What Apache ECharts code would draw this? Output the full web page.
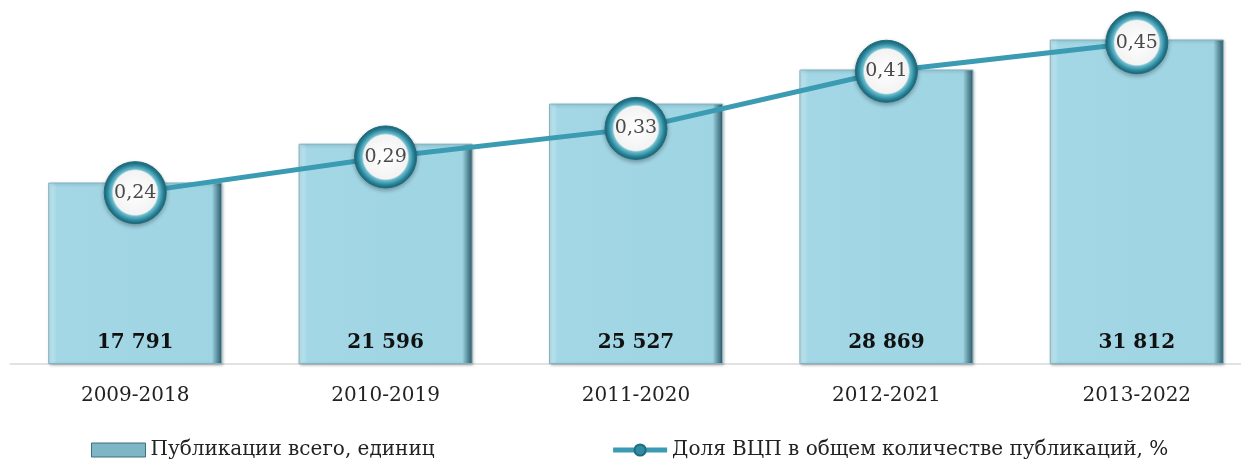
<!DOCTYPE html>
<html>
<head>
<meta charset="utf-8">
<script src="https://cdn.jsdelivr.net/npm/echarts@6/dist/echarts.min.js"></script>
<style>
  html, body { margin: 0; padding: 0; background: #fff; }
  #chart { width: 1241px; height: 460px; }
</style>
</head>
<body>
<div id="chart"></div>
<script>
var periods = ['2009-2018', '2010-2019', '2011-2020', '2012-2021', '2013-2022']
var publications = [17791, 21596, 25527, 28869, 31812]
var vcpShare = [0.24, 0.29, 0.33, 0.41, 0.45]
var barName = 'Публикации всего, единиц'
var lineName = 'Доля ВЦП в общем количестве публикаций, %'

var serif = '"DejaVu Serif", "Liberation Serif", serif'

// пробел как разделитель тысяч
var fmtThousands = function (v) {
  return String(v).replace(/\B(?=(\d{3})+(?!\d))/g, ' ')
}

var barFill = new echarts.graphic.LinearGradient(0, 0, 1, 0, [
  { offset: 0, color: '#c9ebf3' },
  { offset: 0.05, color: '#a3d7e5' },
  { offset: 0.94, color: '#9fd4e3' },
  { offset: 0.97, color: '#5f93a2' },
  { offset: 1, color: '#2f5561' }
])

var markerFill = new echarts.graphic.RadialGradient(0.5, 0.5, 0.5, [
  { offset: 0, color: '#ffffff' },
  { offset: 0.7, color: '#f3f3f3' },
  { offset: 0.75, color: '#6bbccd' },
  { offset: 0.88, color: '#2e8aa0' },
  { offset: 1, color: '#17606f' }
])

var chart = echarts.init(document.getElementById('chart'), null, { renderer: 'canvas' })

chart.setOption({
  animation: false,
  textStyle: { fontFamily: serif },
  legend: {
    top: 435,
    left: 86,
    itemGap: 176,
    itemWidth: 54,
    itemHeight: 14,
    textStyle: { fontFamily: serif, fontSize: 20, color: '#222' },
    data: [
      { name: barName, icon: 'rect', itemStyle: { color: '#7fb6c6', borderColor: '#3e6f7c', borderWidth: 1 } },
      { name: lineName, itemStyle: { color: '#2f8ca2', borderColor: '#1f6e80' }, lineStyle: { width: 5, color: '#3a9bb2' } }
    ]
  },
  grid: { left: 10, width: 1252, top: 7, bottom: 96, outerBoundsMode: 'none', containLabel: false },
  xAxis: {
    type: 'category',
    data: periods,
    axisLine: { lineStyle: { color: '#d9d9d9', width: 1.5 } },
    axisTick: { show: false },
    axisLabel: { fontFamily: serif, fontSize: 20, color: '#222', margin: 22 }
  },
  yAxis: [
    { type: 'value', min: 0, max: 35000, show: false, splitLine: { show: false } },
    { type: 'value', min: 0, max: 0.5, show: false, splitLine: { show: false } }
  ],
  series: [
    {
      name: barName,
      type: 'bar',
      data: publications,
      barWidth: 174,
      itemStyle: {
        color: barFill,
        borderColor: '#7db3c3',
        borderWidth: 1,
        shadowColor: 'rgba(0,0,0,0.25)',
        shadowBlur: 3,
        shadowOffsetX: 1,
        shadowOffsetY: 1
      },
      label: {
        show: true,
        position: 'insideBottom',
        distance: 11,
        formatter: function (p) { return fmtThousands(p.value) },
        fontFamily: serif,
        fontWeight: 'bold',
        fontSize: 20,
        color: '#111'
      }
    },
    {
      name: lineName,
      type: 'line',
      yAxisIndex: 1,
      data: vcpShare,
      symbol: 'circle',
      symbolSize: 62,
      z: 5,
      lineStyle: { color: '#3a9bb2', width: 5 },
      itemStyle: {
        color: markerFill,
        borderColor: '#1f6e80',
        borderWidth: 1,
        shadowColor: 'rgba(0,0,0,0.3)',
        shadowBlur: 4,
        shadowOffsetY: 2
      },
      label: {
        show: true,
        position: 'inside',
        formatter: function (p) { return String(p.value).replace('.', ',') },
        fontFamily: serif,
        fontSize: 19,
        color: '#4a4a4a'
      }
    }
  ]
})
</script>
</body>
</html>
